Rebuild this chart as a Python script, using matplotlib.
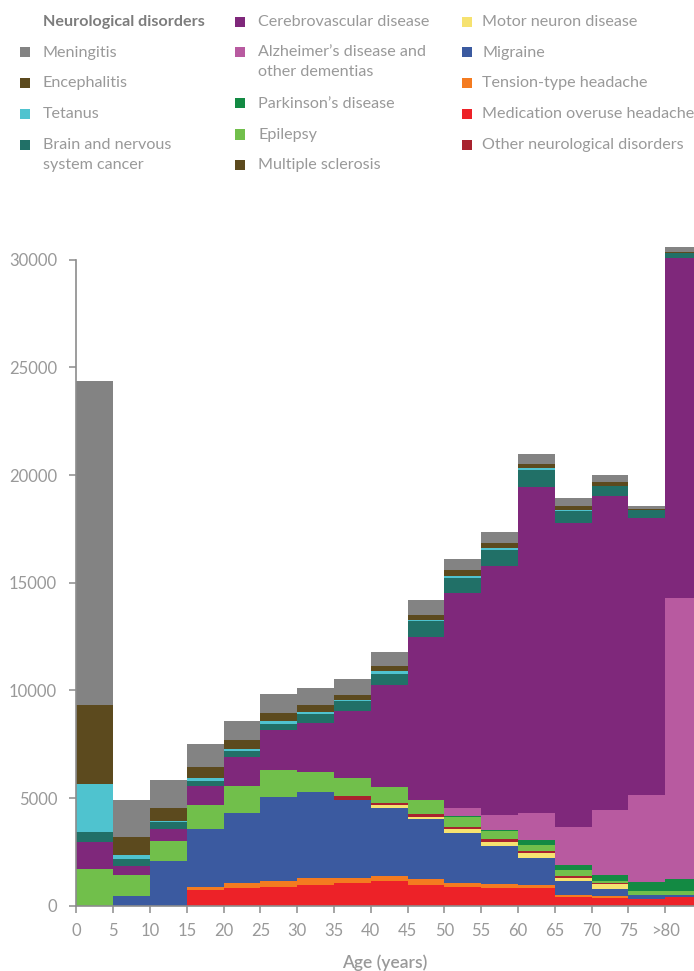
import numpy as np
import matplotlib
matplotlib.use("Agg")
import matplotlib.pyplot as plt
from matplotlib.patches import Rectangle

plt.rcParams['font.family'] = ['Lato', 'DejaVu Sans']

# age bins (left edges, 5-year width), last bin is ">80"
age_left = [0, 5, 10, 15, 20, 25, 30, 35, 40, 45, 50, 55, 60, 65, 70, 75, 80]
tick_labels = ['0', '5', '10', '15', '20', '25', '30', '35', '40', '45', '50',
               '55', '60', '65', '70', '75', '>80']

# values per age bin, stacked bottom -> top
medication_overuse = [0, 0, 0, 730, 835, 885, 975, 1055, 1145, 975, 870, 835, 835, 420, 370, 310, 420]
tension_type = [0, 0, 0, 140, 235, 260, 310, 230, 235, 280, 185, 175, 125, 80, 80, 20, 0]
migraine = [0, 450, 2075, 2690, 3250, 3900, 3995, 3630, 3160, 2770, 2320, 1765, 1255, 650, 325, 165, 90]
motor_neuron = [0, 0, 0, 0, 0, 0, 0, 0, 135, 110, 190, 190, 230, 135, 220, 0, 0]
multiple_sclerosis = [0, 0, 0, 0, 0, 0, 0, 180, 95, 125, 90, 130, 95, 95, 45, 0, 0]
epilepsy = [1700, 975, 930, 1115, 1240, 1255, 930, 840, 740, 650, 465, 385, 280, 280, 105, 190, 185]
parkinsons = [0, 0, 0, 0, 0, 0, 0, 0, 0, 0, 45, 45, 230, 230, 280, 415, 545]
alzheimers = [0, 0, 0, 0, 0, 0, 0, 0, 0, 0, 370, 700, 1255, 1765, 3020, 4050, 13050]
cerebrovascular = [1270, 430, 545, 900, 1345, 1875, 2275, 3105, 4740, 7570, 9985, 11565, 15140, 14120, 14580, 12855, 15800]
brain_cancer = [465, 315, 335, 215, 280, 260, 430, 465, 510, 755, 710, 730, 790, 555, 465, 370, 220]
tetanus = [2215, 185, 50, 140, 90, 140, 95, 45, 140, 45, 95, 90, 90, 45, 20, 0, 0]
encephalitis = [3670, 835, 600, 510, 420, 375, 310, 250, 230, 220, 265, 235, 190, 185, 170, 65, 50]
meningitis = [15050, 1720, 1300, 1070, 885, 880, 790, 730, 650, 700, 510, 510, 465, 375, 325, 120, 230]
other_neuro = [0] * 17

layers = [
    (medication_overuse, '#ed2228'),
    (tension_type, '#f47b20'),
    (migraine, '#3b5aa0'),
    (motor_neuron, '#f6e270'),
    (multiple_sclerosis, '#a8232e'),
    (epilepsy, '#71bf4b'),
    (parkinsons, '#138a43'),
    (alzheimers, '#b85aa0'),
    (cerebrovascular, '#7f287b'),
    (brain_cancer, '#217067'),
    (tetanus, '#4fc3cf'),
    (encephalitis, '#5c4a1e'),
    (meningitis, '#838383'),
    (other_neuro, '#a8232e'),
]

W, H = 694, 971
fig = plt.figure(figsize=(W / 100, H / 100), dpi=100)
ax = fig.add_axes([76.3 / W, (H - 905.7) / H, 1 - 76.3 / W, (905.7 - 238.2) / H])

bottom = np.zeros(len(age_left))
for vals, col in layers:
    v = np.array(vals, dtype=float)
    ax.bar(age_left, v, width=5, bottom=bottom, align='edge', color=col,
           linewidth=0)
    bottom += v

grey = '#8c8c8c'
txt = '#999999'
ax.set_xlim(0, 83.9)
ax.set_ylim(0, 31000)
for s in ['top', 'right']:
    ax.spines[s].set_visible(False)
ax.spines['left'].set_bounds(0, 30000)
for s in ['left', 'bottom']:
    ax.spines[s].set_color(grey)
    ax.spines[s].set_linewidth(1.2)
    ax.spines[s].set_zorder(5)
ax.set_yticks([0, 5000, 10000, 15000, 20000, 25000, 30000])
ax.set_xticks(age_left)
ax.set_xticklabels(tick_labels)
ax.tick_params(axis='both', colors=grey, labelcolor=txt, length=4.8, width=1.1,
               labelsize=12)
ax.tick_params(axis='y', pad=9)
ax.tick_params(axis='x', pad=8)
ax.set_xlabel('Age (years)', color=txt, fontsize=12.5, fontweight='semibold',
              labelpad=11)

# legend drawn by hand in three columns
def px(x, y):
    return x / W, 1 - y / H

fig.text(*px(42.7, 21.7), 'Neurological disorders', color='#7d7d7d',
         fontsize=11.6, fontweight='bold', va='center')

legend_cols = [
    (20, 42.7, [('Meningitis', '#838383', 52.5),
                ('Encephalitis', '#5c4a1e', 83.5),
                ('Tetanus', '#4fc3cf', 114.5),
                ('Brain and nervous\nsystem cancer', '#217067', 145)]),
    (235, 258, [('Cerebrovascular disease', '#7f287b', 21.7),
                ("Alzheimer’s disease and\nother dementias", '#b85aa0', 52.5),
                ('Parkinson’s disease', '#138a43', 103.5),
                ('Epilepsy', '#71bf4b', 134.5),
                ('Multiple sclerosis', '#5c4a1e', 165)]),
    (462, 482, [('Motor neuron disease', '#f6e270', 21.7),
                ('Migraine', '#3b5aa0', 52.5),
                ('Tension-type headache', '#f47b20', 83.5),
                ('Medication overuse headache', '#ed2228', 114.5),
                ('Other neurological disorders', '#a8232e', 145)]),
]
for mx, tx, items in legend_cols:
    for label, col, y in items:
        fig.add_artist(Rectangle(px(mx, y + 5), 10 / W, 10 / H, color=col,
                                 transform=fig.transFigure, lw=0))
        for i, line in enumerate(label.split('\n')):
            fig.text(*px(tx, y + 20 * i), line, color=txt, fontsize=11.6,
                     va='center')

fig.savefig('out.png', dpi=100)
